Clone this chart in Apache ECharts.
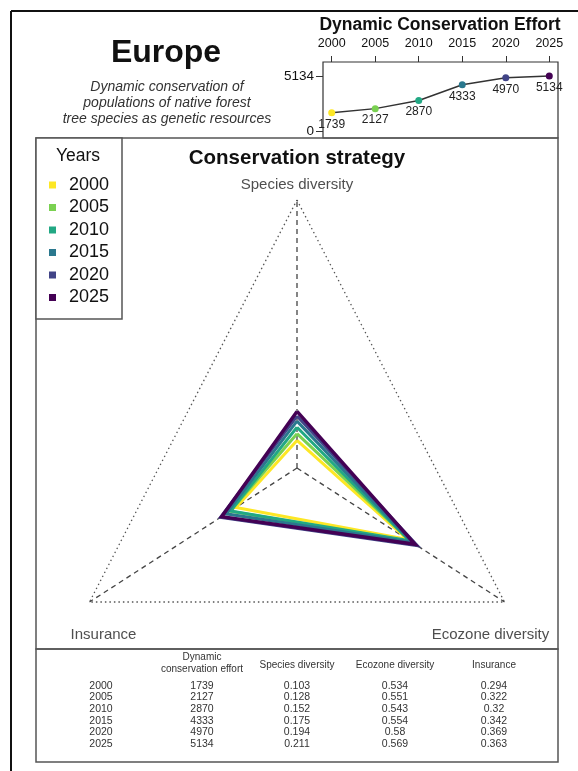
<!DOCTYPE html>
<html>
<head>
<meta charset="utf-8">
<script src="https://cdn.jsdelivr.net/npm/echarts@6/dist/echarts.min.js"></script>
<style>
html, body { margin: 0; padding: 0; background: #fff; }
#chart { width: 578px; height: 771px; }
</style>
</head>
<body>
<div id="chart"></div>
<script>
let years = ["2000", "2005", "2010", "2015", "2020", "2025"];
let yearNums = [2000, 2005, 2010, 2015, 2020, 2025];
let effort = [1739, 2127, 2870, 4333, 4970, 5134];
let speciesDiv = [0.103, 0.128, 0.152, 0.175, 0.194, 0.211];
let ecozoneDiv = [0.534, 0.551, 0.543, 0.554, 0.58, 0.569];
let insurance = [0.294, 0.322, 0.32, 0.342, 0.369, 0.363];
let axisNames = ["Species diversity", "Ecozone diversity", "Insurance"];
let effortTicks = [0, 5134];
let tableHeaders = ["Dynamic\nconservation effort", "Species diversity", "Ecozone diversity", "Insurance"];
let yearColors = ["#FDE725", "#7AD151", "#22A884", "#2A788E", "#414487", "#440154"];

let chart = echarts.init(document.getElementById("chart"));
let font = "Liberation Sans, Arial, sans-serif";

// triangle axes: species up, ecozone lower right, insurance lower left
let dirs = [90, -30, 210].map(function (a) {
    return [Math.cos(a * Math.PI / 180), Math.sin(a * Math.PI / 180)];
});

function toPolygon(vals) {
    let pts = vals.map(function (v, i) {
        return [v * dirs[i][0], v * dirs[i][1]];
    });
    pts.push(pts[0]);
    return pts;
}

let series = [];

// mini effort line
series.push({
    type: "line",
    xAxisIndex: 0,
    yAxisIndex: 0,
    data: yearNums.map(function (y, i) { return [y, effort[i]]; }),
    symbol: "circle",
    symbolSize: 7,
    lineStyle: { color: "#333", width: 1.5 },
    itemStyle: {
        color: function (p) { return yearColors[p.dataIndex]; },
    },
    label: {
        show: true,
        position: "bottom",
        distance: 2,
        fontFamily: font,
        fontSize: 12,
        color: "#222",
        formatter: function (p) { return String(p.value[1]); },
    },
    clip: false,
    silent: true,
});

// outer dotted triangle
series.push({
    type: "line",
    xAxisIndex: 1,
    yAxisIndex: 1,
    data: toPolygon([1, 1, 1]),
    symbol: "none",
    lineStyle: { color: "#555", width: 1.3, type: [1.5, 3] },
    clip: false,
    silent: true,
});

// axis names at the triangle corners
let labelOffsets = [[0, -2], [-14, 20], [14, 20]];
series.push({
    type: "scatter",
    xAxisIndex: 1,
    yAxisIndex: 1,
    data: dirs.map(function (d, i) {
        return {
            value: d,
            label: {
                formatter: axisNames[i],
                position: i === 0 ? "top" : "bottom",
                offset: labelOffsets[i],
            },
        };
    }),
    symbolSize: 1,
    itemStyle: { color: "rgba(0,0,0,0)" },
    label: { show: true, fontFamily: font, fontSize: 15, color: "#222" },
    clip: false,
    silent: true,
});

// dashed spokes
dirs.forEach(function (d) {
    series.push({
        type: "line",
        xAxisIndex: 1,
        yAxisIndex: 1,
        data: [[0, 0], d],
        symbol: "none",
        lineStyle: { color: "#444", width: 1.3, type: [5, 4] },
        clip: false,
        silent: true,
    });
});

// yearly polygons
years.forEach(function (yr, i) {
    series.push({
        name: yr,
        type: "line",
        xAxisIndex: 1,
        yAxisIndex: 1,
        data: toPolygon([speciesDiv[i], ecozoneDiv[i], insurance[i]]),
        symbol: "none",
        color: yearColors[i],
        lineStyle: { color: yearColors[i], width: i === 5 ? 3.5 : 3, join: "miter" },
        clip: false,
        silent: true,
    });
});

// table text built from the data arrays
let colX = [101, 202, 297, 395, 494];
let tableTexts = [];
tableHeaders.forEach(function (h, j) {
    tableTexts.push({
        type: "text",
        x: colX[j + 1],
        y: j === 0 ? 663 : 665,
        style: {
            text: h, fontFamily: font, fontSize: 10, fill: "#333",
            align: "center", verticalAlign: "middle", lineHeight: 12,
        },
    });
});
years.forEach(function (yr, i) {
    let row = [yr, effort[i], speciesDiv[i], ecozoneDiv[i], insurance[i]];
    row.forEach(function (v, j) {
        tableTexts.push({
            type: "text",
            x: colX[j],
            y: 686 + i * 11.6,
            style: {
                text: String(v), fontFamily: font, fontSize: 10.5, fill: "#333",
                align: "center", verticalAlign: "middle",
            },
        });
    });
});

let options = {
    animation: false,
    backgroundColor: "#fff",
    grid: [
        { left: 323, top: 62, width: 235, height: 76, show: true, borderColor: "#333", borderWidth: 1.2, backgroundColor: "transparent" },
        { left: 57.4, top: 200, width: 479.2, height: 402, show: false },
    ],
    xAxis: [
        {
            gridIndex: 0,
            type: "value",
            position: "top",
            min: 1999,
            max: 2026,
            axisLine: { show: false, onZero: false },
            axisTick: { show: true, customValues: yearNums, length: 6, lineStyle: { color: "#333" } },
            axisLabel: {
                customValues: yearNums, margin: 12, fontFamily: font, fontSize: 12.5, color: "#111",
                formatter: function (v) { return String(v); },
            },
            splitLine: { show: false },
        },
        { gridIndex: 1, type: "value", min: -1, max: 1, show: false },
    ],
    yAxis: [
        {
            gridIndex: 0,
            type: "value",
            min: -580,
            max: 6424,
            axisLine: { show: false, onZero: false },
            axisTick: { show: true, customValues: effortTicks, length: 7, lineStyle: { color: "#333" } },
            axisLabel: {
                customValues: effortTicks, margin: 9, fontFamily: font, fontSize: 13.5, color: "#111",
                formatter: function (v) { return String(v); },
            },
            splitLine: { show: false },
        },
        { gridIndex: 1, type: "value", min: -0.5, max: 1, show: false },
    ],
    legend: {
        data: years,
        orient: "vertical",
        left: 49,
        top: 176,
        padding: 0,
        icon: "rect",
        itemWidth: 7,
        itemHeight: 7,
        itemGap: 4.5,
        selectedMode: false,
        textStyle: { fontFamily: font, fontSize: 18, color: "#111", lineHeight: 18, padding: [0, 0, 0, 8] },
        z: 10,
    },
    graphic: [
        { type: "line", shape: { x1: 11, y1: 11, x2: 578, y2: 11 }, style: { stroke: "#111", lineWidth: 2 }, z: 1 },
        { type: "line", shape: { x1: 11, y1: 11, x2: 11, y2: 771 }, style: { stroke: "#111", lineWidth: 2 }, z: 1 },
        { type: "rect", shape: { x: 36, y: 138, width: 522, height: 511 }, style: { fill: "none", stroke: "#555", lineWidth: 1.5 }, z: 1 },
        { type: "rect", shape: { x: 36, y: 649, width: 522, height: 113 }, style: { fill: "none", stroke: "#555", lineWidth: 1.5 }, z: 1 },
        { type: "rect", shape: { x: 36, y: 138, width: 86, height: 181 }, style: { fill: "#fff", stroke: "#555", lineWidth: 1.5 }, z: 5 },
        {
            type: "text", x: 78, y: 156, z: 10,
            style: { text: "Years", fontFamily: font, fontSize: 17.5, fill: "#111", align: "center", verticalAlign: "middle" },
        },
        {
            type: "text", x: 166, y: 53,
            style: { text: "Europe", fontFamily: font, fontSize: 32, fontWeight: "bold", fill: "#111", align: "center", verticalAlign: "middle" },
        },
        {
            type: "text", x: 167, y: 103,
            style: {
                text: "Dynamic conservation of\npopulations of native forest\ntree species as genetic resources",
                fontFamily: font, fontSize: 14, fontStyle: "italic", fill: "#333", lineHeight: 16,
                align: "center", verticalAlign: "middle",
            },
        },
        {
            type: "text", x: 440, y: 25,
            style: { text: "Dynamic Conservation Effort", fontFamily: font, fontSize: 17.5, fontWeight: "bold", fill: "#111", align: "center", verticalAlign: "middle" },
        },
        {
            type: "text", x: 297, y: 158,
            style: { text: "Conservation strategy", fontFamily: font, fontSize: 20.5, fontWeight: "bold", fill: "#111", align: "center", verticalAlign: "middle" },
        },
    ].concat(tableTexts),
    series: series,
};

chart.setOption(options);
</script>
</body>
</html>
